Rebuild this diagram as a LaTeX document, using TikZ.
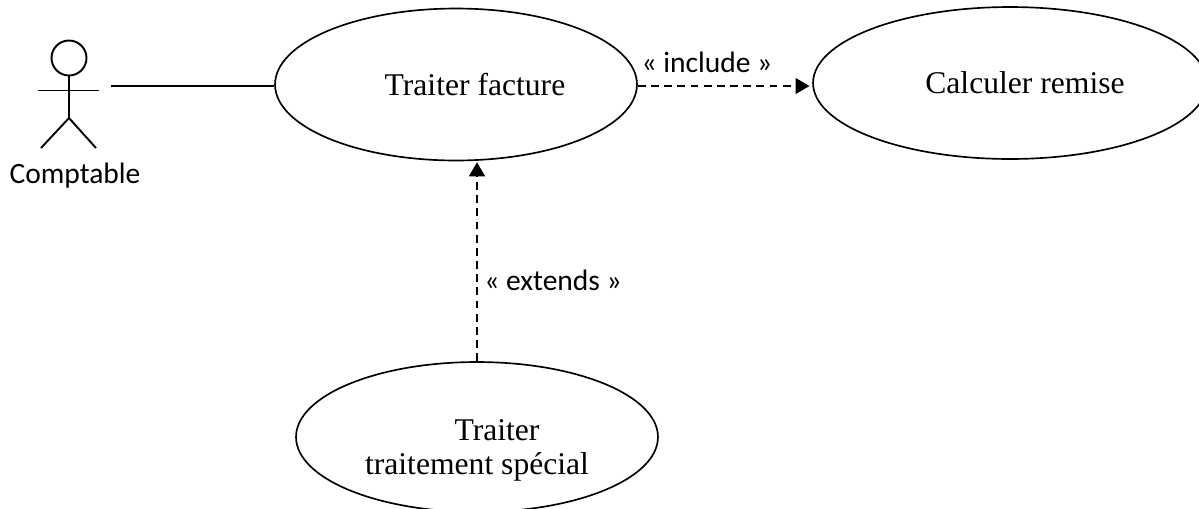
\documentclass[tikz,border=0pt]{standalone}
\usepackage{fontspec}
\setmainfont{Liberation Serif}
\newfontfamily\labelfont{Carlito}
\usetikzlibrary{arrows.meta,shapes.geometric}
\tikzset{
  usecase/.style={draw=black,ellipse,line width=0.95pt,inner sep=0pt,minimum width=7.24cm,minimum height=3.04cm},
  usetext/.style={inner sep=0pt,font=\fontsize{18}{21}\selectfont},
  linktext/.style={inner sep=0pt,font=\labelfont\fontsize{16.8}{20}\selectfont},
  depend/.style={draw=black,line width=0.95pt,dash pattern=on 4.5pt off 3pt,-{Triangle[length=8pt,width=9pt]}},
  stick/.style={draw=black,line width=1.1pt}
}
\begin{document}
\begin{tikzpicture}[x=0.02cm,y=0.02cm]
\useasboundingbox (0,0) rectangle (1199,-508);
\clip (0,0) rectangle (1199,-508);
% actor
\node [stick,circle,inner sep=0pt,minimum size=0.7cm] (head) at (69,-58) {};
\draw [stick] (head.south) -- (69,-118);
\draw [stick] (38,-90.5) -- (99,-90.5);
\draw [stick] (41,-148) -- (69,-118) -- (96,-148);
\node [linktext] (comptable) at (75,-176) {Comptable};
\coordinate (hand) at (111,-86);
% use cases
\node [usecase] (facture) at (456,-84.5) {};
\node [usecase,minimum width=7.88cm] (remise) at (1010,-83) {};
\node [usecase,minimum height=3cm] (special) at (477,-437) {};
\node [usetext] (facturetext) at (475,-85) {Traiter facture};
\node [usetext] (remisetext) at (1025,-83) {Calculer remise};
\node [usetext] (specialtop) at (497,-430) {Traiter};
\node [usetext] (specialbot) at (477,-467) {traitement spécial};
% links
\draw [line width=0.95pt] (hand) -- (hand -| facture.west);
\draw [depend,shorten >=1.5pt] (hand -| facture.east) -- (hand -| remise.west);
\draw [depend,shorten >=0.5pt] (special.north) -- (special.north |- facture.south);
\node [linktext] (include) at (707,-62) {« include »};
\node [linktext] (extends) at (553,-280) {« extends »};
\end{tikzpicture}
\end{document}
